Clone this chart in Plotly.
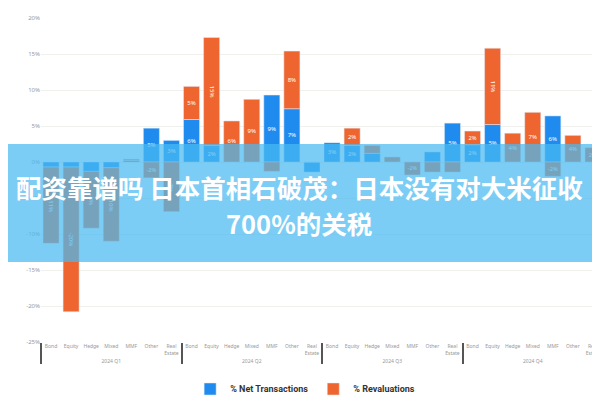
import plotly.graph_objects as go

# quarters and fund types for the grouped x axis
quarters = ["2024 Q1", "2024 Q2", "2024 Q3", "2024 Q4"]
fund_types = ["Bond", "Equity", "Hedge", "Mixed", "MMF", "Other", "Real<br>Estate"]

# % values per quarter, in fund_types order
net_q1 = [-0.7, -0.7, -1.3, -0.8, 0.2, 4.7, 3.0]
net_q2 = [5.9, 2.3, 0.0, 0.0, 9.3, 7.4, -1.4]
net_q3 = [2.7, 2.3, 1.2, 0.0, 0.0, 1.4, 5.4]
net_q4 = [2.4, 5.2, 0.0, 0.0, 6.4, 0.0, 0.0]

reval_q1 = [-10.6, -20.1, -7.9, -10.2, 0.2, -2.2, -6.9]
reval_q2 = [4.6, 15.0, 5.7, 8.7, -1.3, 8.0, 0.0]
reval_q3 = [0.0, 2.4, 1.1, 0.7, -1.8, -1.4, -1.4]
reval_q4 = [1.9, 10.6, 4.0, 6.9, -2.0, 3.7, 2.0]

y_ticks = [20, 15, 10, 5, 0, -5, -10, -15, -20, -25]

headline_1 = "<b>配资靠谱吗 日本首相石破茂：日本没有对大米征收</b>"
headline_2 = "<b>700%的关税</b>"

BLUE = "#1F8BEF"
ORANGE = "#EE6530"

x_outer = [q for q in quarters for _ in fund_types]
x_inner = fund_types * len(quarters)
net = net_q1 + net_q2 + net_q3 + net_q4
reval = reval_q1 + reval_q2 + reval_q3 + reval_q4


def seg_labels(vals):
    return [f"{round(v)}%" if abs(v) >= 1.5 else "" for v in vals]


def py(px_y):
    # pixel row in the 600x400 picture -> paper y of the plot area
    return (342 - px_y) / 332


def px(px_x):
    return (px_x - 33) / 562


fig = go.Figure()
fig.add_trace(go.Bar(
    x=[x_outer, x_inner], y=net, name="<b>% Net Transactions</b>",
    marker_color=BLUE, text=seg_labels(net), textposition="inside",
    insidetextanchor="middle", textfont=dict(size=6, color="white"),
))
fig.add_trace(go.Bar(
    x=[x_outer, x_inner], y=reval, name="<b>% Revaluations</b>",
    marker_color=ORANGE, text=seg_labels(reval), textposition="inside",
    insidetextanchor="middle", textfont=dict(size=6, color="white"),
))

title_font = dict(size=25.5, color="white", family="Noto Sans CJK SC")

fig.update_layout(
    width=600, height=400,
    barmode="relative", bargap=0.2,
    margin=dict(l=33, r=5, t=10, b=58),
    paper_bgcolor="white", plot_bgcolor="white",
    font=dict(family="Noto Sans, Roboto, sans-serif", size=6, color="#888"),
    showlegend=True,
    legend=dict(orientation="h", x=0.47, xanchor="center", y=-0.145,
                yanchor="middle", itemwidth=30, tracegroupgap=0,
                font=dict(size=9, color="#333", family="Roboto")),
    xaxis=dict(type="multicategory", showgrid=False, tickangle=0,
               tickfont=dict(size=5, color="#999"),
               showdividers=True, dividercolor="#555", dividerwidth=2),
    yaxis=dict(range=[-25, 20], tickvals=y_ticks,
               ticktext=[f"{v}%" for v in y_ticks],
               gridcolor="#f0f0ec", zeroline=False,
               tickfont=dict(size=6, color="#999")),
    shapes=[dict(type="rect", xref="paper", yref="paper",
                 x0=-0.1, x1=1.1, y0=py(260), y1=py(139),
                 fillcolor="rgba(74,186,241,0.72)", line_width=0, layer="above")],
    annotations=[
        dict(text=headline_1, xref="paper", yref="paper", x=px(291), y=py(183),
             showarrow=False, font=title_font),
        dict(text=headline_2, xref="paper", yref="paper", x=px(291), y=py(220),
             showarrow=False, font=title_font),
    ],
)

fig.write_html("out.html")
